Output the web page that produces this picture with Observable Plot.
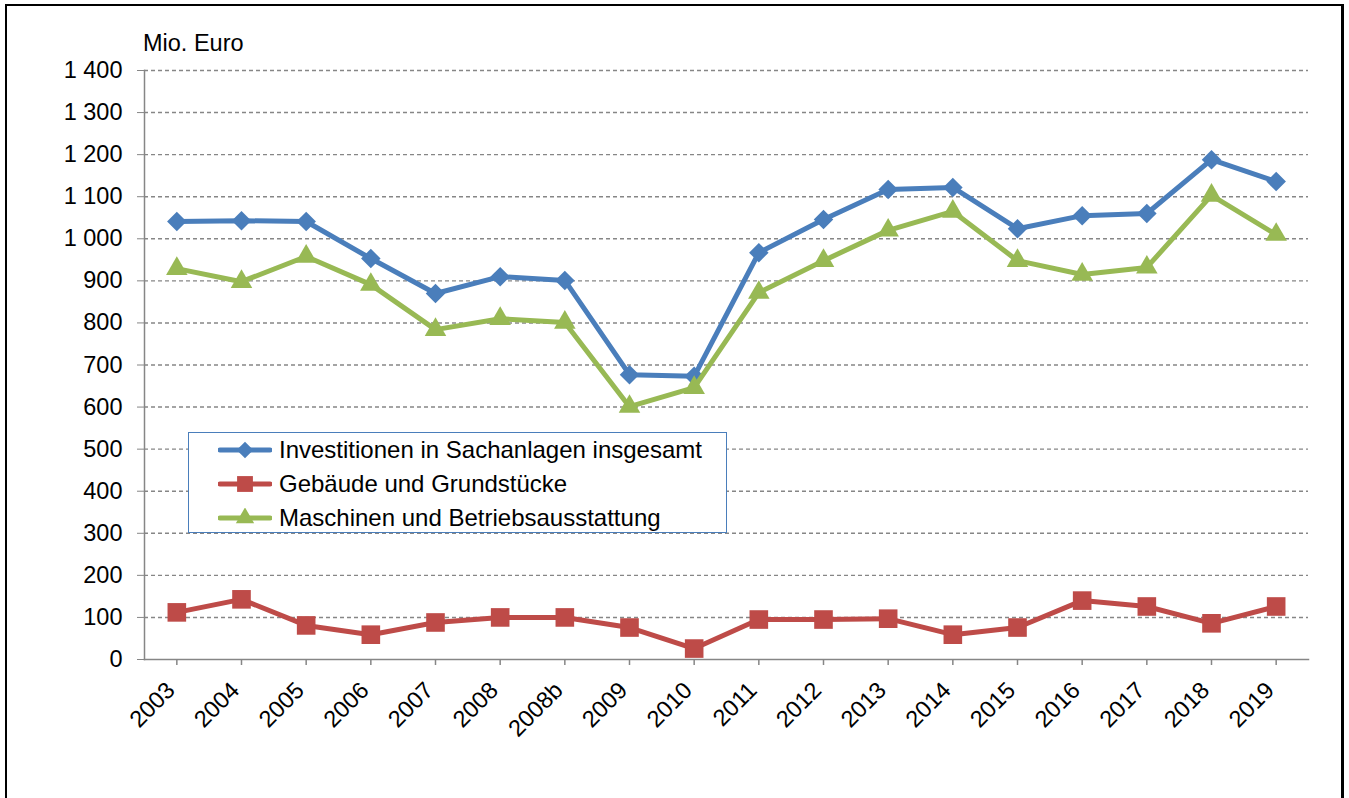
<!DOCTYPE html>
<html>
<head>
<meta charset="utf-8">
<script src="https://cdn.jsdelivr.net/npm/d3@7"></script>
<script src="https://cdn.jsdelivr.net/npm/@observablehq/plot@0.6"></script>
<style>
  html, body { margin: 0; padding: 0; background: #fff; }
  #wrap { position: relative; width: 1349px; height: 798px; overflow: hidden; font-family: "Liberation Sans", Arial, sans-serif; }
  #border { position: absolute; left: 5px; top: 4px; width: 1339px; height: 820px; border-left: 2px solid #000; border-top: 2px solid #000; border-right: 3px solid #000; box-sizing: border-box; pointer-events: none; }
  #unit { position: absolute; left: 143px; top: 30px; font-size: 23.5px; color: #000; }
  #legend { position: absolute; left: 188px; top: 432px; width: 539px; height: 101px; box-sizing: border-box; border: 1px solid #4a7ebb; background: #fff; }
  .row { position: absolute; left: 0; height: 34px; display: flex; align-items: center; font-size: 24px; color: #000; white-space: nowrap; }
  .row svg { display: block; margin-left: 29px; margin-right: 7px; }
</style>
</head>
<body>
<div id="wrap">
  <div id="chart"></div>
  <div id="unit">Mio. Euro</div>
  <div id="legend"></div>
  <div id="border"></div>
</div>
<script>
const years = ["2003","2004","2005","2006","2007","2008","2008b","2009","2010","2011","2012","2013","2014","2015","2016","2017","2018","2019"];
const seriesNames = ["Investitionen in Sachanlagen insgesamt", "Gebäude und Grundstücke", "Maschinen und Betriebsausstattung"];
const totalValues = [1041, 1043, 1041, 953, 870, 910, 901, 677, 673, 967, 1046, 1117, 1122, 1024, 1055, 1060, 1188, 1136];
const buildingValues = [112, 143, 81, 59, 88, 100, 100, 76, 26, 95, 95, 97, 59, 76, 140, 126, 86, 126];
const machineValues = [929, 898, 958, 891, 784, 810, 801, 601, 646, 872, 948, 1020, 1065, 948, 915, 932, 1103, 1010];
const yTicks = [0, 100, 200, 300, 400, 500, 600, 700, 800, 900, 1000, 1100, 1200, 1300, 1400];

const colors = ["#4a7ebb", "#be4b48", "#98b954"];
const symbols = ["diamond2", "square", "triangle"];
const radii = [8.8, 10.5, 8];
const valueLists = [totalValues, buildingValues, machineValues];

const data = [];
seriesNames.forEach((s, i) => years.forEach((y, j) => data.push({series: s, year: y, value: valueLists[i][j]})));

const fmt = d => d3.format(",")(d).replace(/,/g, " ");

const marks = [
  Plot.ruleY(yTicks.filter(d => d > 0), {stroke: "#868686", strokeWidth: 1.4, strokeDasharray: "4,3"}),
  Plot.frame({anchor: "left", stroke: "#868686", strokeWidth: 1.5}),
  Plot.frame({anchor: "bottom", stroke: "#868686", strokeWidth: 1.5}),
  Plot.axisY({ticks: yTicks, tickFormat: fmt, tickSize: 7, tickPadding: 15, stroke: "#868686", fontSize: 23.5, fill: "#000", label: null}),
  Plot.axisX({tickSize: 6, tickFormat: () => "", stroke: "#868686", strokeWidth: 1.5, label: null}),
  Plot.axisX({tickSize: 0, tickPadding: 20, tickRotate: -45, fontSize: 23.5, fill: "#000", label: null, dx: -6, dy: 7})
];
seriesNames.forEach((s, i) => {
  const d = data.filter(r => r.series === s);
  marks.push(Plot.line(d, {x: "year", y: "value", stroke: colors[i], strokeWidth: 5, strokeLinejoin: "round"}));
  marks.push(Plot.dot(d, {x: "year", y: "value", symbol: symbols[i], r: radii[i], fill: colors[i], stroke: "none"}));
});

const chart = Plot.plot({
  width: 1349,
  height: 798,
  marginLeft: 144,
  marginRight: 41,
  marginTop: 70,
  marginBottom: 139,
  style: {fontFamily: "'Liberation Sans', Arial, sans-serif", fontSize: "23.5px", color: "#000", background: "transparent", overflow: "visible"},
  x: {type: "band", domain: years, padding: 0, round: false},
  y: {domain: [0, 1400]},
  marks
});
document.getElementById("chart").appendChild(chart);

// legend
const legend = document.getElementById("legend");
seriesNames.forEach((s, i) => {
  const row = document.createElement("div");
  row.className = "row";
  row.style.top = (i * 34) + "px";
  const sym = d3.symbol(d3["symbol" + (symbols[i] === "diamond2" ? "Diamond2" : symbols[i] === "square" ? "Square" : "Triangle")], Math.PI * (radii[i] * 0.85) ** 2)();
  row.innerHTML = `<svg width="54" height="20" viewBox="0 0 54 20"><line x1="2" y1="10" x2="52" y2="10" stroke="${colors[i]}" stroke-width="5" stroke-linecap="round"/><path d="${sym}" transform="translate(27,10)" fill="${colors[i]}"/></svg><span>${s}</span>`;
  legend.appendChild(row);
});
</script>
</body>
</html>
